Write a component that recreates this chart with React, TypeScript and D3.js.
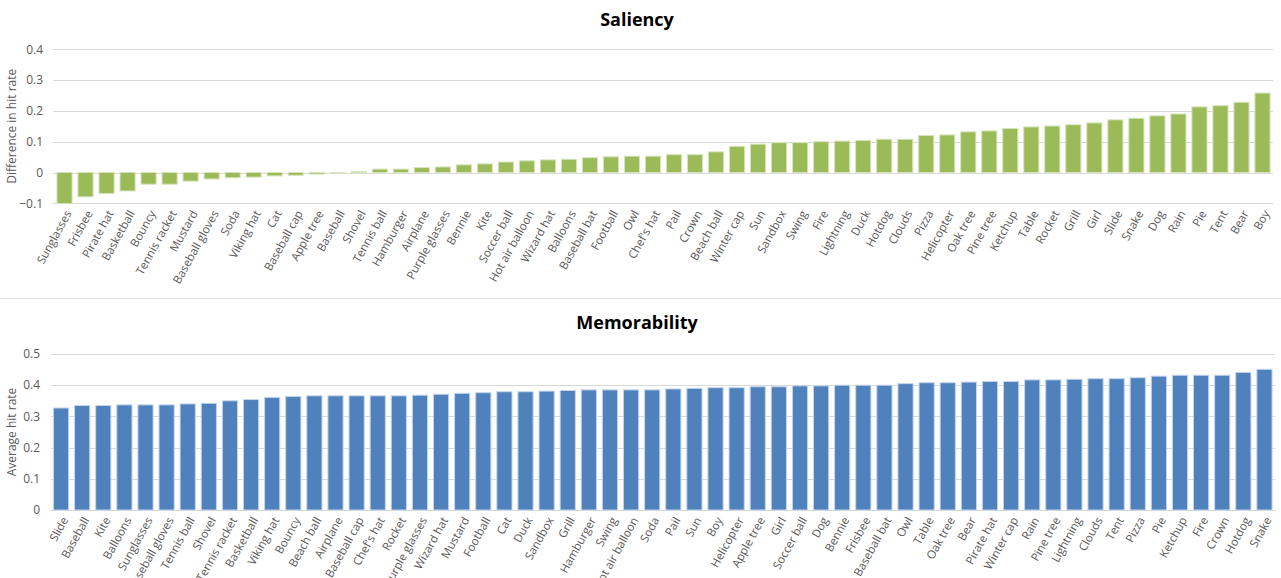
import { useEffect, useRef } from "react";
import * as d3 from "d3";

const salCategories = [
  "Sunglasses", "Frisbee", "Pirate hat", "Basketball", "Bouncy", "Tennis racket", "Mustard",
  "Baseball gloves", "Soda", "Viking hat", "Cat", "Baseball cap", "Apple tree", "Baseball",
  "Shovel", "Tennis ball", "Hamburger", "Airplane", "Purple glasses", "Bennie", "Kite",
  "Soccer ball", "Hot air balloon", "Wizard hat", "Balloons", "Baseball bat", "Football", "Owl",
  "Chef's hat", "Pail", "Crown", "Beach ball", "Winter cap", "Sun", "Sandbox", "Swing", "Fire",
  "Lightning", "Duck", "Hotdog", "Clouds", "Pizza", "Helicopter", "Oak tree", "Pine tree",
  "Ketchup", "Table", "Rocket", "Grill", "Girl", "Slide", "Snake", "Dog", "Rain", "Pie", "Tent",
  "Bear", "Boy",
];
const salValues = [
  -0.101, -0.079, -0.068, -0.06, -0.038, -0.038, -0.028, -0.021, -0.017, -0.015, -0.011, -0.009,
  -0.005, -0.001, 0.003, 0.011, 0.011, 0.016, 0.018, 0.025, 0.028, 0.034, 0.038, 0.041, 0.043,
  0.048, 0.051, 0.053, 0.053, 0.058, 0.058, 0.067, 0.085, 0.092, 0.097, 0.097, 0.1, 0.102, 0.104,
  0.108, 0.108, 0.12, 0.122, 0.132, 0.135, 0.143, 0.148, 0.151, 0.155, 0.161, 0.171, 0.176,
  0.184, 0.19, 0.213, 0.217, 0.228, 0.258,
];
const salTicks = [-0.1, 0, 0.1, 0.2, 0.3, 0.4];

const memCategories = [
  "Slide", "Baseball", "Kite", "Balloons", "Sunglasses", "Baseball gloves", "Tennis ball", "Shovel",
  "Tennis racket", "Basketball", "Viking hat", "Bouncy", "Beach ball", "Airplane", "Baseball cap",
  "Chef's hat", "Rocket", "Purple glasses", "Wizard hat", "Mustard", "Football", "Cat", "Duck",
  "Sandbox", "Grill", "Hamburger", "Swing", "Hot air balloon", "Soda", "Pail", "Sun", "Boy",
  "Helicopter", "Apple tree", "Girl", "Soccer ball", "Dog", "Bennie", "Frisbee", "Baseball bat",
  "Owl", "Table", "Oak tree", "Bear", "Pirate hat", "Winter cap", "Rain", "Pine tree", "Lightning",
  "Clouds", "Tent", "Pizza", "Pie", "Ketchup", "Fire", "Crown", "Hotdog", "Snake",
];
const memValues = [
  0.327, 0.335, 0.335, 0.337, 0.337, 0.337, 0.34, 0.342, 0.35, 0.354, 0.361, 0.364, 0.366, 0.366,
  0.366, 0.366, 0.366, 0.368, 0.371, 0.374, 0.376, 0.379, 0.379, 0.381, 0.383, 0.385, 0.385,
  0.385, 0.385, 0.388, 0.39, 0.392, 0.392, 0.395, 0.395, 0.398, 0.398, 0.4, 0.4, 0.4, 0.405,
  0.408, 0.408, 0.41, 0.412, 0.412, 0.417, 0.417, 0.419, 0.421, 0.421, 0.424, 0.429, 0.432,
  0.432, 0.432, 0.441, 0.451,
];
const memTicks = [0, 0.1, 0.2, 0.3, 0.4, 0.5];

const W = 1281;
const H = 578;
const FONT = "'Open Sans', 'Liberation Sans', sans-serif";

interface PanelOpts {
  title: string;
  titleY: number;
  yLabel: string;
  cats: string[];
  vals: number[];
  ticks: number[];
  domain: [number, number];
  yRange: [number, number];
  xRange: [number, number];
  gridX0: number;
  tickX: number;
  fill: string;
  stroke: string;
}

function drawPanel(svg: d3.Selection<SVGSVGElement, unknown, null, undefined>, o: PanelOpts) {
  const g = svg.append("g");
  const x = d3.scaleBand<string>().domain(o.cats).range(o.xRange).paddingInner(0.28).paddingOuter(0.14);
  const y = d3.scaleLinear().domain(o.domain).range(o.yRange);

  // gridlines
  g.selectAll("line.grid")
    .data(o.ticks)
    .join("line")
    .attr("x1", o.gridX0)
    .attr("x2", o.xRange[1])
    .attr("y1", (d) => Math.round(y(d)) + 0.5)
    .attr("y2", (d) => Math.round(y(d)) + 0.5)
    .attr("stroke", "#d9d9d9")
    .attr("stroke-width", 1);

  g.selectAll("text.tick")
    .data(o.ticks)
    .join("text")
    .attr("x", o.tickX)
    .attr("y", (d) => y(d))
    .attr("dy", "0.35em")
    .attr("text-anchor", "end")
    .attr("font-family", FONT)
    .attr("font-size", 12)
    .attr("fill", "#595959")
    .text((d) => (d === 0 ? "0" : d3.format(".1f")(d)));

  const y0 = y(Math.max(0, o.domain[0]));
  g.selectAll("rect.bar")
    .data(o.vals)
    .join("rect")
    .attr("x", (_, i) => x(o.cats[i])!)
    .attr("width", x.bandwidth())
    .attr("y", (d) => Math.min(y(d), y0))
    .attr("height", (d) => Math.abs(y(d) - y0))
    .attr("fill", o.fill)
    .attr("stroke", o.stroke)
    .attr("stroke-width", 1);

  const labelY = o.yRange[0] + 8;
  g.selectAll("text.cat")
    .data(o.cats)
    .join("text")
    .attr("transform", (d) => `translate(${x(d)! + x.bandwidth() / 2 + 4},${labelY}) rotate(-61)`)
    .attr("text-anchor", "end")
    .attr("dy", "0.35em")
    .attr("font-family", FONT)
    .attr("font-size", 11.5)
    .attr("fill", "#595959")
    .text((d) => d);

  // axis title
  const midY = (o.yRange[0] + o.yRange[1]) / 2;
  g.append("text")
    .attr("transform", `translate(16,${midY}) rotate(-90)`)
    .attr("text-anchor", "middle")
    .attr("font-family", FONT)
    .attr("font-size", 12)
    .attr("fill", "#595959")
    .text(o.yLabel);

  g.append("text")
    .attr("x", 637)
    .attr("y", o.titleY)
    .attr("text-anchor", "middle")
    .attr("font-family", FONT)
    .attr("font-weight", 700)
    .attr("font-size", 18)
    .attr("fill", "#000")
    .text(o.title);
}

export default function App() {
  const svgRef = useRef<SVGSVGElement>(null);

  useEffect(() => {
    const el = svgRef.current;
    if (!el) return;
    d3.select(el).selectAll("*").remove();
    const svg = d3.select(el);

    svg.append("rect").attr("width", W).attr("height", H).attr("fill", "#fff");

    drawPanel(svg, {
      title: "Saliency",
      titleY: 26,
      yLabel: "Difference in hit rate",
      cats: salCategories,
      vals: salValues,
      ticks: salTicks,
      domain: [-0.1, 0.4],
      yRange: [203.3, 49.3],
      xRange: [54, 1273],
      gridX0: 53,
      tickX: 43,
      fill: "#9bbb59",
      stroke: "#d7e4bd",
    });

    // separator between the two charts
    svg.append("line")
      .attr("x1", 0)
      .attr("x2", W)
      .attr("y1", 298.5)
      .attr("y2", 298.5)
      .attr("stroke", "#e3e3e3")
      .attr("stroke-width", 1);

    drawPanel(svg, {
      title: "Memorability",
      titleY: 329,
      yLabel: "Average hit rate",
      cats: memCategories,
      vals: memValues,
      ticks: memTicks,
      domain: [0, 0.5],
      yRange: [510, 354],
      xRange: [50.5, 1275],
      gridX0: 51,
      tickX: 40,
      fill: "#4f81bd",
      stroke: "#c6d5ea",
    });
  }, []);

  return (
    <svg
      ref={svgRef}
      width={W}
      height={H}
      viewBox={`0 0 ${W} ${H}`}
      style={{ position: "absolute", left: 0, top: 0, display: "block" }}
    />
  );
}
